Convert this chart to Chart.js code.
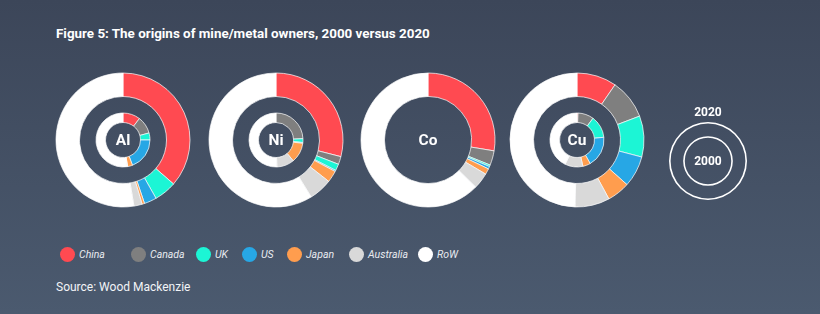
<!DOCTYPE html>
<html>
<head>
<meta charset="utf-8">
<script src="https://cdn.jsdelivr.net/npm/chart.js@4.4.1/dist/chart.umd.min.js"></script>
<style>
  html, body { margin: 0; padding: 0; }
  #fig {
    position: relative; width: 820px; height: 314px; overflow: hidden;
    background: linear-gradient(180deg, #3c4659 0%, #4b5a6f 100%);
    font-family: Roboto, 'Open Sans', sans-serif; color: #fff;
  }
  .title { position: absolute; left: 56px; top: 26px; font-size: 13.4px; font-weight: 700; }
  canvas { position: absolute; }
  .metal, .year {
    position: absolute; width: 50px; margin-left: -25px; text-align: center;
    font-weight: 700; pointer-events: none;
  }
  .metal { font-size: 15.5px; line-height: 18px; }
  .year { font-size: 12px; line-height: 14px; }
  .legend-item { position: absolute; top: 247px; height: 15px; }
  .legend-item .dot { position: absolute; left: 0; top: 0; width: 15px; height: 15px; border-radius: 50%; }
  .legend-item .lbl {
    position: absolute; left: 19px; top: 0; line-height: 15px; white-space: nowrap;
    font-size: 10.5px; font-style: italic; color: #e8ebf0;
  }
  .source { position: absolute; left: 56px; top: 280px; font-size: 12px; color: #f2f4f7; }
</style>
</head>
<body>
<div id="fig">
  <div class="title">Figure 5: The origins of mine/metal owners, 2000 versus 2020</div>
  <div id="legend"></div>
  <div class="source">Source: Wood Mackenzie</div>
</div>
<script>
// ─── Data ─────────────────────────────────────────────────────────────────────
const CATEGORIES = ['China', 'Canada', 'UK', 'US', 'Japan', 'Australia', 'RoW'];
const METALS     = ['Al', 'Ni', 'Co', 'Cu'];

// share of owners (%), same order as CATEGORIES
const AL_2020 = [36.4, 0,   5.4, 3.0, 0.6, 2.0, 52.6];
const AL_2000 = [10.4, 10.4, 4.2, 19.3, 2.9, 0.3, 52.5];
const NI_2020 = [29.0, 1.9, 1.6, 0.3, 2.8, 5.6, 58.8];
const NI_2000 = [0,   24.2, 2.3, 0.5, 12.0, 10.5, 50.5];
const CO_2020 = [27.6, 3.5, 0.4, 0.6, 1.4, 3.9, 62.6];
const CO_2000 = null;   // no inner ring for cobalt
const CU_2020 = [9.6, 9.6, 9.9, 7.5, 5.5, 8.4, 49.5];
const CU_2000 = [0.6, 9.5, 13.3, 18.5, 4.6, 10.7, 42.8];

const YEARS = ['2020', '2000'];

// ─── Styling ──────────────────────────────────────────────────────────────────
const COLORS = ['#ff4a51', '#7f7f7f', '#1cf5d5', '#27a7e5', '#ff9d4e', '#d9d9d9', '#ffffff'];
const CENTER_X  = [123, 276, 428, 577];
const CENTER_Y  = 140;
const LEGEND_X  = [60, 131, 196, 242, 287, 349, 418];

const SERIES = {
  Al: [AL_2020, AL_2000],
  Ni: [NI_2020, NI_2000],
  Co: [CO_2020, CO_2000],
  Cu: [CU_2020, CU_2000]
};

const fig = document.getElementById('fig');

function ring(data, weight) {
  return {
    data: data,
    weight: weight,
    backgroundColor: COLORS,
    hoverBackgroundColor: COLORS,
    borderColor: 'rgba(255,255,255,0.7)',
    borderWidth: 1
  };
}

function spacer(weight) {
  return {
    data: [1],
    weight: weight,
    backgroundColor: 'rgba(0,0,0,0)',
    hoverBackgroundColor: 'rgba(0,0,0,0)',
    borderWidth: 0
  };
}

const baseOptions = {
  responsive: false,
  animation: false,
  radius: 67,
  plugins: { legend: { display: false }, tooltip: { enabled: false } }
};

METALS.forEach((m, i) => {
  const size = 150;
  const cv = document.createElement('canvas');
  cv.width = size; cv.height = size;
  cv.style.left = (CENTER_X[i] - size / 2) + 'px';
  cv.style.top  = (CENTER_Y - size / 2) + 'px';
  fig.appendChild(cv);

  const [outer, inner] = SERIES[m];
  const datasets = inner
    ? [ring(outer, 23.5), spacer(16.5), ring(inner, 9.5)]
    : [ring(outer, 23.5)];

  new Chart(cv, {
    type: 'doughnut',
    data: { labels: CATEGORIES, datasets: datasets },
    options: Object.assign({}, baseOptions, { cutout: inner ? '26.1%' : '65%' })
  });

  const lbl = document.createElement('div');
  lbl.className = 'metal';
  lbl.textContent = m;
  lbl.style.left = CENTER_X[i] + 'px';
  lbl.style.top = (CENTER_Y - 9) + 'px';
  fig.appendChild(lbl);
});

// ─── Key: 2020 outer ring, 2000 inner ring ────────────────────────────────────
(function drawKey() {
  const size = 100, kx = 708, ky = 161;
  const cv = document.createElement('canvas');
  cv.width = size; cv.height = size;
  cv.style.left = (kx - size / 2) + 'px';
  cv.style.top  = (ky - size / 2) + 'px';
  fig.appendChild(cv);

  const line = w => ({ data: [100], weight: w, backgroundColor: '#ffffff', borderWidth: 0 });
  new Chart(cv, {
    type: 'doughnut',
    data: { labels: YEARS, datasets: [line(1.6), spacer(12.6), line(1.6)] },
    options: Object.assign({}, baseOptions, { radius: 39, cutout: '59.6%' })
  });

  const top = document.createElement('div');
  top.className = 'year';
  top.textContent = YEARS[0];
  top.style.left = kx + 'px';
  top.style.top = '105px';
  fig.appendChild(top);

  const mid = document.createElement('div');
  mid.className = 'year';
  mid.textContent = YEARS[1];
  mid.style.left = kx + 'px';
  mid.style.top = (ky - 7) + 'px';
  fig.appendChild(mid);
})();

// ─── Legend ───────────────────────────────────────────────────────────────────
const legend = document.getElementById('legend');
CATEGORIES.forEach((c, i) => {
  const item = document.createElement('div');
  item.className = 'legend-item';
  item.style.left = LEGEND_X[i] + 'px';
  item.innerHTML = '<span class="dot" style="background:' + COLORS[i] + '"></span>' +
                   '<span class="lbl">' + c + '</span>';
  legend.appendChild(item);
});
</script>
</body>
</html>
